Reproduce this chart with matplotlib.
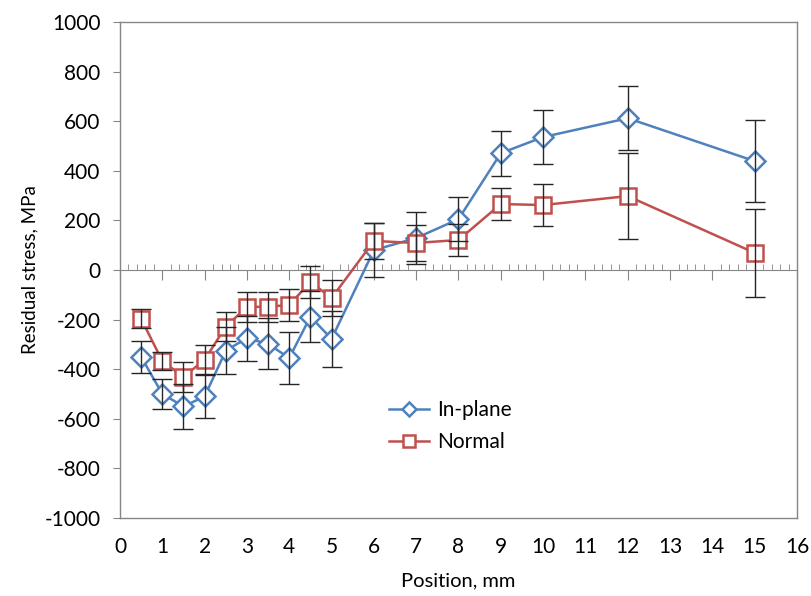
import numpy as np
import matplotlib
matplotlib.use('Agg')
import matplotlib.pyplot as plt
from matplotlib.ticker import MultipleLocator

plt.rcParams['font.family'] = ['Lato', 'DejaVu Sans']
plt.rcParams['axes.unicode_minus'] = False

#資料
pos = [0.5, 1, 1.5, 2, 2.5, 3, 3.5, 4, 4.5, 5, 6, 7, 8, 9, 10, 12, 15]
inplane = [-350, -500, -550, -510, -325, -275, -298, -355, -188, -278, 80, 129, 205, 471, 536, 612, 439]
inplane_err = [65, 60, 90, 88, 94, 90, 103, 103, 104, 113, 108, 103, 90, 90, 109, 129, 165]
normal = [-197, -367, -431, -362, -228, -149, -148, -141, -48, -113, 117, 109, 121, 266, 262, 298, 69]
normal_err = [38, 35, 60, 58, 60, 60, 60, 65, 64, 73, 72, 73, 65, 65, 83, 173, 178]
xticks = list(range(0, 17))
yticks = list(range(-1000, 1001, 200))

blue = '#4F81BD'
red = '#C0504D'
gray = '#868686'

fig = plt.figure(figsize=(8.12, 5.96), dpi=100)
ax = fig.add_axes([120/812, 78/596, 677/812, 496/596])

ax.plot(pos, inplane, color=blue, lw=1.8, marker='D', ms=10, mfc='white',
        mec=blue, mew=1.8, label='In-plane', zorder=3)
ax.plot(pos, normal, color=red, lw=1.8, marker='s', ms=12, mfc='white',
        mec=red, mew=1.8, label='Normal', zorder=3)
ax.errorbar(pos, inplane, yerr=inplane_err, fmt='none', ecolor='#262626',
            elinewidth=1, capsize=7, capthick=1, zorder=4)
ax.errorbar(pos, normal, yerr=normal_err, fmt='none', ecolor='#262626',
            elinewidth=1, capsize=7, capthick=1, zorder=4)

ax.set_xlim(0, 16)
ax.set_ylim(-1000, 1000)
ax.set_xticks(xticks)
ax.set_yticks(yticks)
ax.tick_params(axis='x', length=0, pad=14, labelsize=15)
ax.tick_params(axis='y', length=5, color=gray, pad=9, labelsize=15)
for s in ax.spines.values():
    s.set_color(gray)
    s.set_linewidth(1)

#y=0 的軸線
sec = ax.secondary_xaxis(0, transform=ax.transData)
sec.set_xticks(xticks)
sec.xaxis.set_minor_locator(MultipleLocator(0.2))
sec.tick_params(which='major', direction='out', length=7, color=gray, labelbottom=False)
sec.tick_params(which='minor', direction='in', length=4, color=gray)
sec.spines['bottom'].set_color(gray)

ax.set_xlabel('Position, mm', fontsize=14.5, labelpad=11)
ax.set_ylabel('Residual stress, MPa', fontsize=13.5, labelpad=4)

ax.legend(loc='upper left', bbox_to_anchor=(0.37, 0.275), frameon=False,
          fontsize=15, handlelength=1.9, handletextpad=0.4, labelspacing=0.55,
          markerscale=0.75)

fig.savefig('out.png', dpi=100)
